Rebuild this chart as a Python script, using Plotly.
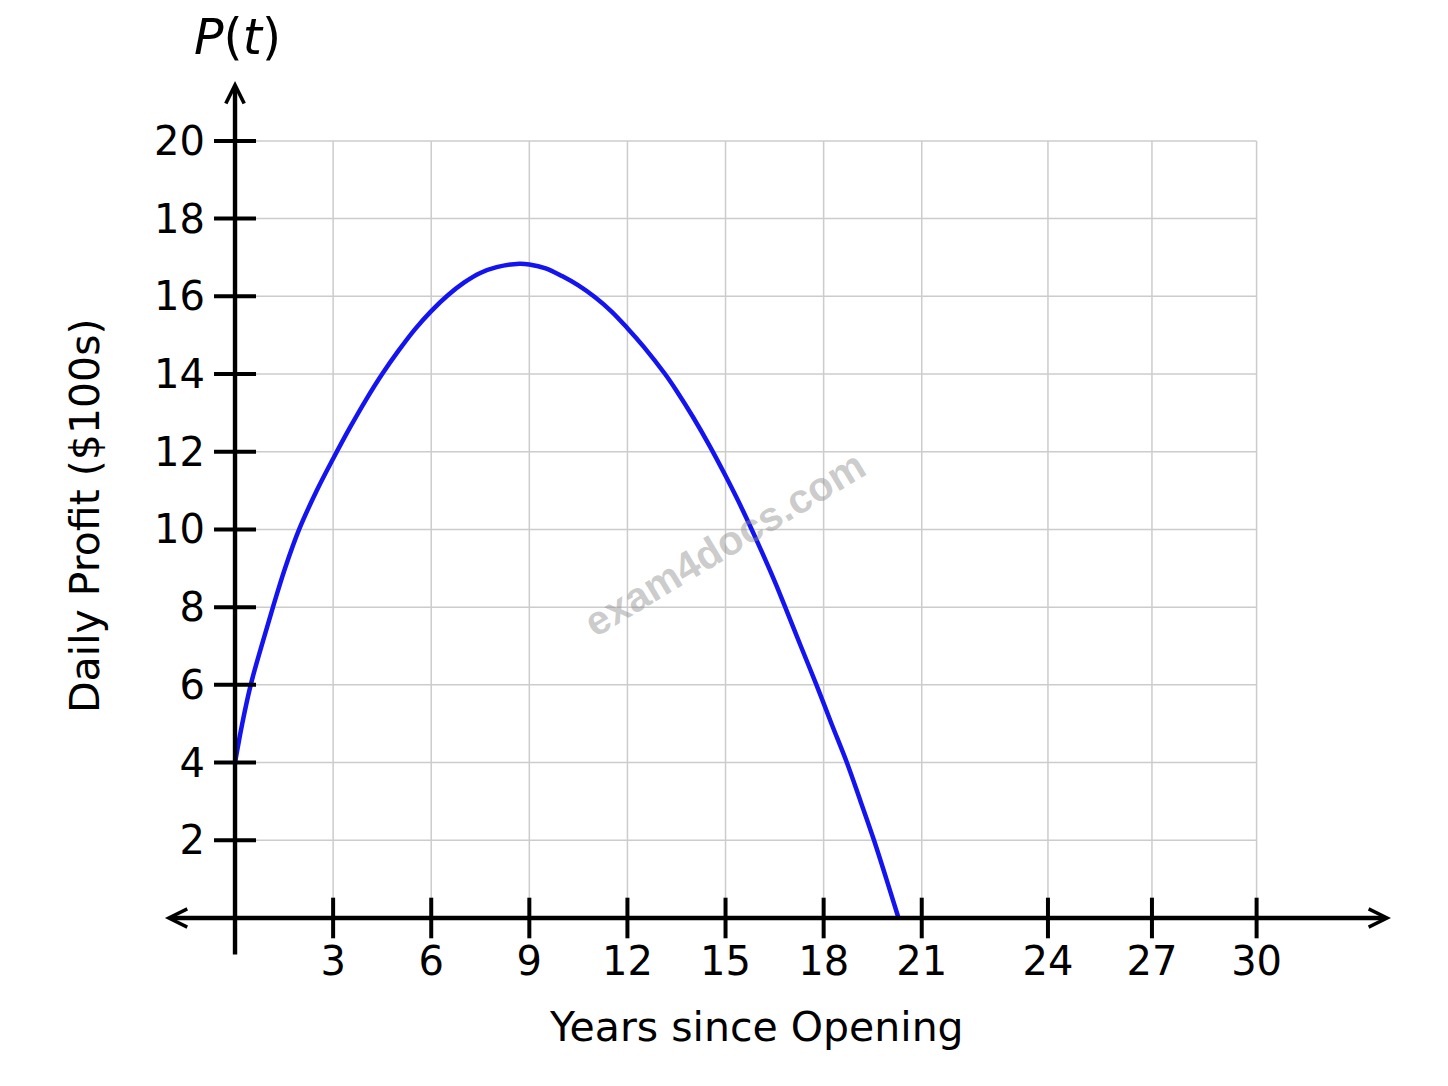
import plotly.graph_objects as go

# ---- data ----
years = [0, 0.22, 0.48, 0.81, 1.16, 1.53, 1.96, 2.5, 3.0, 3.5, 4.0, 4.5, 5.0, 5.5, 6.0, 6.5,
         7.0, 7.5, 8.0, 8.7, 9.0, 9.5, 10.0, 10.5, 11.0, 11.5, 12.0, 12.5, 13.15, 13.5,
         14.0, 14.5, 15.0, 15.5, 16.0, 16.5, 16.8, 17.3, 17.78, 18.25, 18.71, 19.13, 19.54,
         19.92, 20.29]
profit = [4, 5, 6, 7, 8, 9, 10, 11.0, 11.82, 12.6, 13.33, 14.0, 14.6, 15.15, 15.62, 16.02,
          16.35, 16.6, 16.75, 16.84, 16.82, 16.72, 16.52, 16.28, 15.98, 15.62, 15.18, 14.7,
          14.0, 13.57, 12.9, 12.17, 11.38, 10.54, 9.63, 8.67, 8.05, 7.0, 6.0, 4.98, 4.0, 3.0,
          2.0, 1.0, 0.0]

x_tick_labels = ["3", "6", "9", "12", "15", "18", "21", "24", "27", "30"]
x_tick_positions = [3, 6, 9, 12, 15, 18, 21, 24.86, 28.04, 31.24]
y_tick_values = [2, 4, 6, 8, 10, 12, 14, 16, 18, 20]

FONT = "DejaVu Sans"
GRID = "#cccccc"

fig = go.Figure()

# curve
fig.add_trace(go.Scatter(x=years, y=profit, mode="lines",
                         line=dict(color="#1414f0", width=4.5, shape="spline", smoothing=1.0),
                         hoverinfo="skip", showlegend=False))

# crossing tick marks
fig.add_trace(go.Scatter(x=x_tick_positions, y=[0] * len(x_tick_positions), mode="markers",
                         marker=dict(symbol="line-ns-open", size=29, color="black",
                                     line=dict(color="black", width=4)),
                         hoverinfo="skip", showlegend=False))
fig.add_trace(go.Scatter(x=[0] * len(y_tick_values), y=y_tick_values, mode="markers",
                         marker=dict(symbol="line-ew-open", size=30, color="black",
                                     line=dict(color="black", width=4)),
                         hoverinfo="skip", showlegend=False))

# grid
shapes = []
for xv in x_tick_positions:
    shapes.append(dict(type="line", xref="x", yref="y", x0=xv, x1=xv, y0=0, y1=y_tick_values[-1],
                       line=dict(color=GRID, width=1.5), layer="below"))
for yv in y_tick_values:
    shapes.append(dict(type="line", xref="x", yref="y", x0=0, x1=x_tick_positions[-1], y0=yv, y1=yv,
                       line=dict(color=GRID, width=1.5), layer="below"))

annotations = [
    # x axis with arrows at both ends
    dict(x=35.35, y=0, ax=-2.19, ay=0, xref="x", yref="y", axref="x", ayref="y",
         text="", showarrow=True, arrowside="end+start", arrowhead=5, startarrowhead=5,
         arrowsize=0.82, startarrowsize=0.82, arrowwidth=4.4, arrowcolor="black"),
    # y axis with arrow at top
    dict(x=0, y=21.54, ax=0, ay=-0.98, xref="x", yref="y", axref="x", ayref="y",
         text="", showarrow=True, arrowhead=5, arrowsize=0.82, arrowwidth=4.4, arrowcolor="black"),
    # titles
    dict(x=0.4825, y=-0.0527, xref="paper", yref="paper", text="Years since Opening",
         showarrow=False, font=dict(family=FONT, size=41, color="black"),
         xanchor="center", yanchor="middle"),
    dict(x=-0.0517, y=0.5088, xref="paper", yref="paper", text="Daily Profit ($100s)",
         showarrow=False, textangle=-90, font=dict(family=FONT, size=41, color="black"),
         xanchor="center", yanchor="middle"),
    dict(x=0.0692, y=1.035, xref="paper", yref="paper", text="<i>P</i>(<i>t</i>)",
         showarrow=False, font=dict(family=FONT, size=49, color="black"),
         xanchor="center", yanchor="middle"),
    # watermark
    dict(x=0.4563, y=0.478, xref="paper", yref="paper", text="exam4docs.com",
         showarrow=False, textangle=-31,
         font=dict(family="Liberation Sans", size=41, color="rgba(140,140,140,0.45)", weight="bold"),
         xanchor="center", yanchor="middle"),
]

fig.update_layout(
    width=1448, height=1086,
    margin=dict(l=142, r=48, t=61, b=115),
    paper_bgcolor="white", plot_bgcolor="white",
    showlegend=False,
    shapes=shapes,
    annotations=annotations,
    xaxis=dict(range=[-2.6, 35.87], tickvals=x_tick_positions, ticktext=x_tick_labels,
               showgrid=False, zeroline=False, showline=False, ticks="",
               tickfont=dict(family=FONT, size=40, color="black"),
               anchor="free", position=0.067, ticklabelstandoff=16, fixedrange=True),
    yaxis=dict(range=[-1.57, 21.85], tickvals=y_tick_values,
               showgrid=False, zeroline=False, showline=False, ticks="",
               tickfont=dict(family=FONT, size=40, color="black"),
               anchor="free", position=0.06757, ticklabelstandoff=30, fixedrange=True),
)

fig.write_html("out.html")
